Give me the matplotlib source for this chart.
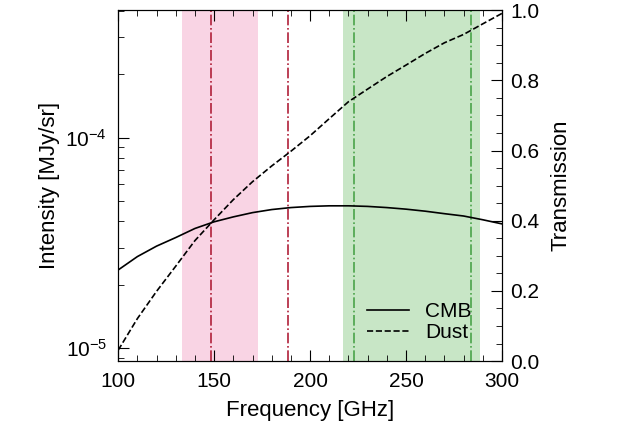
import matplotlib.pyplot as plt
from matplotlib.ticker import AutoMinorLocator

plt.rcParams['font.family'] = ['Liberation Sans', 'DejaVu Sans']

# spectra
freq = [100, 110, 120, 130, 140, 150, 160, 170, 180, 190, 200, 210, 220, 230, 240, 250, 260, 270, 280, 290, 300]
cmb = [2.35e-5, 2.72e-5, 3.05e-5, 3.35e-5, 3.7e-5, 3.98e-5, 4.2e-5, 4.4e-5, 4.55e-5, 4.65e-5, 4.71e-5,
       4.74e-5, 4.74e-5, 4.71e-5, 4.65e-5, 4.57e-5, 4.47e-5, 4.35e-5, 4.24e-5, 4.07e-5, 3.89e-5]
dust = [9.77e-6, 1.38e-5, 1.86e-5, 2.45e-5, 3.24e-5, 4.07e-5, 5.07e-5, 6.17e-5, 7.33e-5, 8.61e-5, 1.02e-4,
        1.23e-4, 1.48e-4, 1.70e-4, 1.95e-4, 2.21e-4, 2.51e-4, 2.82e-4, 3.09e-4, 3.47e-4, 3.89e-4]

# bands
pink_band = (133, 173)
green_band = (217, 288.5)
red_lines = [148.5, 188.5]
green_lines = [223, 284]

fig = plt.figure(figsize=(6.22, 4.42), dpi=100)
ax = fig.add_axes([0.19, 0.183, 0.617, 0.794])

ax.axvspan(*pink_band, color='#f9d4e4', lw=0)
ax.axvspan(*green_band, color='#c8e6c6', lw=0)
for x in red_lines:
    ax.axvline(x, color='#b0203a', ls='-.', lw=1.2)
for x in green_lines:
    ax.axvline(x, color='#4aa34a', ls='-.', lw=1.2)

ax.semilogy(freq, cmb, 'k-', lw=1.2, label='CMB')
ax.semilogy(freq, dust, 'k--', lw=1.2, label='Dust')
ax.set_xlim(100, 300)
ax.set_ylim(8.67e-6, 4.03e-4)
ax.xaxis.set_minor_locator(AutoMinorLocator(5))
ax.tick_params(which='both', direction='in', labelsize=15, top=True)
ax.tick_params(which='major', length=8, pad=8)
ax.tick_params(which='minor', length=4)
ax.set_xlabel('Frequency [GHz]', fontsize=16, labelpad=6)
ax.set_ylabel('Intensity [MJy/sr]', fontsize=16, labelpad=4)
ax.legend(loc='lower right', frameon=False, fontsize=15, handlelength=2.0,
          bbox_to_anchor=(0.97, 0.0), labelspacing=0.1)

ax2 = ax.twinx()
ax2.set_ylim(0, 1.0)
ax2.set_yticks([0, 0.2, 0.4, 0.6, 0.8, 1.0])
ax2.yaxis.set_minor_locator(AutoMinorLocator(4))
ax2.tick_params(which='both', direction='in', labelsize=15)
ax2.tick_params(which='major', length=8, pad=6)
ax2.tick_params(which='minor', length=4)
ax2.set_ylabel('Transmission', fontsize=16, labelpad=8)

fig.savefig('out.png', dpi=100)
